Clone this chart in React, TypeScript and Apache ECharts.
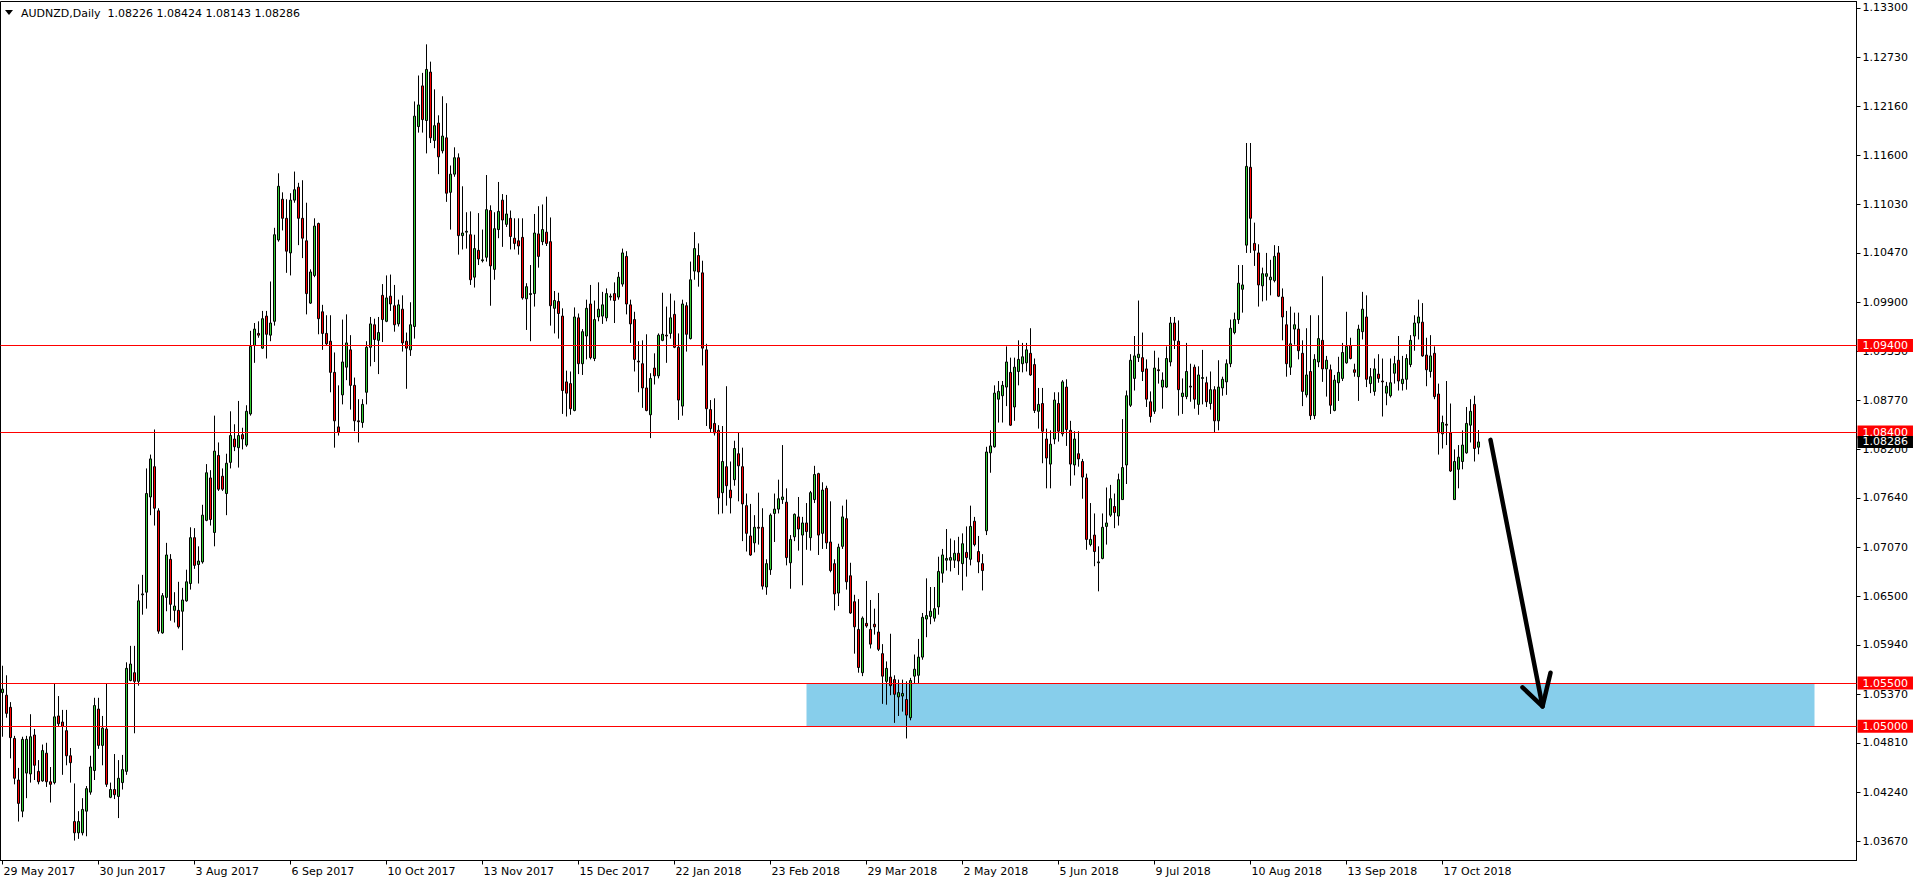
import React, { useEffect, useRef } from 'react';
import * as echarts from 'echarts';

// ---- DATA (rows are [open, close, low, high]) ----
const candlesA: number[][] = [
  [1.0539, 1.0543, 1.0488, 1.0570], [1.0536, 1.0515, 1.0510, 1.0559], [1.0522, 1.0487, 1.0463, 1.0528], [1.0486, 1.0440, 1.0433, 1.0489],
  [1.0438, 1.0411, 1.0390, 1.0452], [1.0402, 1.0485, 1.0395, 1.0488], [1.0446, 1.0485, 1.0417, 1.0489], [1.0445, 1.0488, 1.0435, 1.0514],
  [1.0490, 1.0455, 1.0438, 1.0497], [1.0448, 1.0436, 1.0433, 1.0461], [1.0437, 1.0472, 1.0436, 1.0479], [1.0469, 1.0436, 1.0430, 1.0481],
  [1.0436, 1.0433, 1.0412, 1.0453], [1.0435, 1.0511, 1.0433, 1.0550], [1.0512, 1.0503, 1.0500, 1.0535], [1.0505, 1.0500, 1.0444, 1.0519],
  [1.0495, 1.0466, 1.0455, 1.0519], [1.0466, 1.0458, 1.0435, 1.0475], [1.0390, 1.0377, 1.0368, 1.0434], [1.0377, 1.0390, 1.0370, 1.0402],
  [1.0377, 1.0404, 1.0374, 1.0417], [1.0402, 1.0428, 1.0373, 1.0431], [1.0424, 1.0453, 1.0421, 1.0466], [1.0449, 1.0524, 1.0438, 1.0533],
  [1.0520, 1.0478, 1.0474, 1.0533], [1.0478, 1.0498, 1.0455, 1.0512], [1.0497, 1.0433, 1.0430, 1.0550], [1.0418, 1.0427, 1.0417, 1.0435],
  [1.0427, 1.0421, 1.0416, 1.0468], [1.0419, 1.0440, 1.0394, 1.0461], [1.0435, 1.0450, 1.0427, 1.0467], [1.0448, 1.0567, 1.0444, 1.0574],
  [1.0553, 1.0572, 1.0552, 1.0593], [1.0562, 1.0552, 1.0492, 1.0593], [1.0552, 1.0645, 1.0547, 1.0664], [1.0652, 1.0653, 1.0629, 1.0675],
  [1.0655, 1.0769, 1.0636, 1.0798], [1.0765, 1.0809, 1.0744, 1.0814], [1.0800, 1.0752, 1.0732, 1.0843], [1.0749, 1.0610, 1.0607, 1.0752],
  [1.0608, 1.0651, 1.0607, 1.0654], [1.0649, 1.0698, 1.0633, 1.0712], [1.0693, 1.0641, 1.0622, 1.0699], [1.0634, 1.0639, 1.0620, 1.0655],
  [1.0634, 1.0615, 1.0613, 1.0667], [1.0633, 1.0646, 1.0588, 1.0660], [1.0645, 1.0667, 1.0644, 1.0681], [1.0665, 1.0718, 1.0658, 1.0730],
  [1.0718, 1.0686, 1.0682, 1.0729], [1.0687, 1.0691, 1.0665, 1.0708], [1.0690, 1.0744, 1.0688, 1.0756], [1.0738, 1.0793, 1.0737, 1.0803],
  [1.0787, 1.0739, 1.0732, 1.0796], [1.0724, 1.0818, 1.0708, 1.0859], [1.0813, 1.0774, 1.0772, 1.0828], [1.0789, 1.0774, 1.0772, 1.0798],
  [1.0769, 1.0804, 1.0744, 1.0815], [1.0805, 1.0836, 1.0798, 1.0864], [1.0832, 1.0823, 1.0818, 1.0849], [1.0822, 1.0836, 1.0799, 1.0876],
  [1.0837, 1.0832, 1.0820, 1.0845], [1.0825, 1.0864, 1.0823, 1.0871], [1.0861, 1.0939, 1.0859, 1.0957], [1.0940, 1.0959, 1.0920, 1.0966],
  [1.0954, 1.0952, 1.0949, 1.0968], [1.0937, 1.0971, 1.0936, 1.0980], [1.0974, 1.0953, 1.0925, 1.0980], [1.0952, 1.0966, 1.0945, 1.1014],
  [1.0968, 1.1068, 1.0963, 1.1076], [1.1062, 1.1124, 1.1060, 1.1139], [1.1109, 1.1087, 1.1073, 1.1117], [1.1087, 1.1049, 1.1024, 1.1109],
  [1.1047, 1.1108, 1.1021, 1.1116], [1.1108, 1.1120, 1.1105, 1.1141], [1.1123, 1.1087, 1.1056, 1.1128], [1.1087, 1.1064, 1.1041, 1.1131],
  [1.1061, 1.1000, 1.0976, 1.1105], [1.0989, 1.1025, 1.0988, 1.1028], [1.1021, 1.1078, 1.1019, 1.1087], [1.1081, 1.0971, 1.0953, 1.1082],
  [1.0979, 1.0954, 1.0935, 1.0987], [1.0954, 1.0942, 1.0940, 1.0975], [1.0945, 1.0909, 1.0886, 1.0975], [1.0909, 1.0853, 1.0822, 1.0932],
  [1.0846, 1.0840, 1.0836, 1.0894], [1.0883, 1.0921, 1.0872, 1.0970], [1.0915, 1.0943, 1.0900, 1.0976], [1.0935, 1.0894, 1.0866, 1.0952],
  [1.0894, 1.0853, 1.0841, 1.0903], [1.0853, 1.0852, 1.0828, 1.0878], [1.0851, 1.0872, 1.0845, 1.0878], [1.0886, 1.0938, 1.0872, 1.0945],
  [1.0938, 1.0965, 1.0916, 1.0973],
];
const candlesB: number[][] = [
  [1.0964, 1.0947, 1.0921, 1.0971], [1.0946, 1.0955, 1.0907, 1.0973], [1.0998, 1.0970, 1.0944, 1.1011], [1.0968, 1.0995, 1.0967, 1.1021],
  [1.0997, 1.0988, 1.0980, 1.1022], [1.0986, 1.0964, 1.0956, 1.1010], [1.0965, 1.0987, 1.0962, 1.0993], [1.0982, 1.0943, 1.0933, 1.0998],
  [1.0945, 1.0937, 1.0890, 1.0955], [1.0935, 1.0964, 1.0928, 1.0990], [1.0962, 1.1205, 1.0948, 1.1222], [1.1193, 1.1218, 1.1186, 1.1252],
  [1.1240, 1.1201, 1.1186, 1.1255], [1.1200, 1.1259, 1.1162, 1.1288], [1.1256, 1.1180, 1.1174, 1.1268], [1.1177, 1.1194, 1.1168, 1.1236],
  [1.1197, 1.1158, 1.1138, 1.1206], [1.1165, 1.1182, 1.1162, 1.1228], [1.1180, 1.1116, 1.1106, 1.1220], [1.1117, 1.1138, 1.1074, 1.1148],
  [1.1138, 1.1157, 1.1135, 1.1169], [1.1157, 1.1067, 1.1045, 1.1162], [1.1067, 1.1070, 1.1051, 1.1124], [1.1071, 1.1072, 1.1052, 1.1094],
  [1.1068, 1.1016, 1.1010, 1.1095], [1.1019, 1.1052, 1.1007, 1.1068], [1.1050, 1.1040, 1.1033, 1.1093], [1.1038, 1.1039, 1.1036, 1.1074],
  [1.1042, 1.1097, 1.1037, 1.1137], [1.1096, 1.1032, 1.0986, 1.1102], [1.1028, 1.1075, 1.1016, 1.1094], [1.1074, 1.1095, 1.1064, 1.1129],
  [1.1108, 1.1085, 1.1054, 1.1115], [1.1080, 1.1092, 1.1077, 1.1114], [1.1087, 1.1066, 1.1051, 1.1096], [1.1064, 1.1058, 1.1051, 1.1087],
  [1.1061, 1.1055, 1.1045, 1.1087], [1.1065, 1.0995, 1.0993, 1.1087], [1.0994, 1.1008, 1.0958, 1.1012], [1.0999, 1.1000, 1.0945, 1.1033],
  [1.1000, 1.1070, 1.0985, 1.1092], [1.1069, 1.1043, 1.1030, 1.1101], [1.1060, 1.1074, 1.1056, 1.1103], [1.1071, 1.1058, 1.1055, 1.1112],
  [1.1060, 1.0986, 1.0963, 1.1088], [1.0983, 1.0992, 1.0954, 1.1003], [1.0991, 1.0977, 1.0948, 1.1001], [1.0974, 1.0888, 1.0861, 1.0983],
  [1.0898, 1.0885, 1.0858, 1.0911], [1.0896, 1.0867, 1.0860, 1.0910], [1.0865, 1.0973, 1.0864, 1.0984], [1.0972, 1.0919, 1.0907, 1.0977],
  [1.0919, 1.0956, 1.0906, 1.0959], [1.0951, 1.0983, 1.0924, 1.0993], [1.0988, 1.0926, 1.0924, 1.1010], [1.0925, 1.0970, 1.0922, 1.0992],
  [1.0973, 1.0982, 1.0968, 1.1013], [1.0974, 1.0987, 1.0965, 1.1002], [1.0972, 1.1000, 1.0968, 1.1006], [1.0996, 1.0997, 1.0992, 1.1000],
  [1.1000, 1.0992, 1.0966, 1.1013], [1.0996, 1.1019, 1.0993, 1.1025], [1.1011, 1.1047, 1.1008, 1.1052], [1.1043, 1.0988, 1.0976, 1.1049],
  [1.0987, 1.0965, 1.0943, 1.0993], [1.0970, 1.0924, 1.0910, 1.0979], [1.0922, 1.0921, 1.0886, 1.0945], [1.0919, 1.0891, 1.0868, 1.0946],
  [1.0891, 1.0865, 1.0864, 1.0953], [1.0860, 1.0902, 1.0833, 1.0908], [1.0914, 1.0905, 1.0895, 1.0931], [1.0905, 1.0952, 1.0902, 1.0954],
  [1.0946, 1.0953, 1.0945, 1.1001], [1.0952, 1.0951, 1.0920, 1.0985], [1.0954, 1.0972, 1.0948, 1.1000], [1.0976, 1.0938, 1.0937, 1.0992],
  [1.0938, 1.0877, 1.0854, 1.0954], [1.0870, 1.0988, 1.0859, 1.0993], [1.0986, 1.0953, 1.0933, 1.0990], [1.0948, 1.1016, 1.0947, 1.1037],
  [1.1026, 1.1052, 1.1016, 1.1071], [1.1044, 1.1025, 1.1008, 1.1058], [1.1024, 1.0937, 1.0917, 1.1038], [1.0935, 1.0867, 1.0847, 1.0942],
  [1.0866, 1.0844, 1.0840, 1.0877], [1.0850, 1.0839, 1.0836, 1.0879], [1.0842, 1.0764, 1.0745, 1.0848], [1.0770, 1.0806, 1.0746, 1.0847],
  [1.0800, 1.0778, 1.0755, 1.0893], [1.0773, 1.0764, 1.0746, 1.0806], [1.0785, 1.0821, 1.0778, 1.0830], [1.0815, 1.0801, 1.0760, 1.0839],
  [1.0800, 1.0757, 1.0714, 1.0822],
];
const candlesC: number[][] = [
  [1.0755, 1.0723, 1.0702, 1.0769], [1.0720, 1.0698, 1.0697, 1.0757], [1.0712, 1.0730, 1.0701, 1.0744], [1.0730, 1.0729, 1.0710, 1.0770],
  [1.0730, 1.0662, 1.0658, 1.0752], [1.0661, 1.0688, 1.0652, 1.0693], [1.0681, 1.0744, 1.0675, 1.0746], [1.0746, 1.0751, 1.0713, 1.0769],
  [1.0751, 1.0763, 1.0746, 1.0785], [1.0762, 1.0765, 1.0757, 1.0825], [1.0759, 1.0695, 1.0686, 1.0775], [1.0689, 1.0716, 1.0659, 1.0721],
  [1.0719, 1.0745, 1.0714, 1.0746], [1.0742, 1.0728, 1.0703, 1.0765], [1.0721, 1.0735, 1.0663, 1.0742], [1.0735, 1.0725, 1.0704, 1.0758],
  [1.0718, 1.0770, 1.0703, 1.0772], [1.0762, 1.0791, 1.0758, 1.0801], [1.0792, 1.0721, 1.0698, 1.0793], [1.0723, 1.0773, 1.0705, 1.0782],
  [1.0775, 1.0712, 1.0705, 1.0778], [1.0713, 1.0680, 1.0678, 1.0760], [1.0688, 1.0653, 1.0634, 1.0693], [1.0654, 1.0707, 1.0639, 1.0711],
  [1.0708, 1.0742, 1.0705, 1.0755], [1.0740, 1.0667, 1.0658, 1.0762], [1.0674, 1.0631, 1.0630, 1.0689], [1.0644, 1.0615, 1.0584, 1.0652],
  [1.0612, 1.0568, 1.0562, 1.0647], [1.0562, 1.0625, 1.0558, 1.0627], [1.0619, 1.0616, 1.0614, 1.0668], [1.0612, 1.0595, 1.0590, 1.0646],
  [1.0618, 1.0615, 1.0606, 1.0636], [1.0609, 1.0589, 1.0587, 1.0654], [1.0584, 1.0558, 1.0526, 1.0595], [1.0552, 1.0567, 1.0525, 1.0575],
  [1.0557, 1.0547, 1.0536, 1.0607], [1.0554, 1.0537, 1.0504, 1.0559], [1.0534, 1.0539, 1.0512, 1.0554], [1.0535, 1.0538, 1.0517, 1.0554],
  [1.0531, 1.0513, 1.0486, 1.0552], [1.0510, 1.0553, 1.0507, 1.0556], [1.0558, 1.0566, 1.0550, 1.0583], [1.0559, 1.0580, 1.0550, 1.0601],
  [1.0580, 1.0626, 1.0577, 1.0631], [1.0624, 1.0628, 1.0603, 1.0671], [1.0627, 1.0633, 1.0618, 1.0661], [1.0625, 1.0636, 1.0621, 1.0661],
  [1.0638, 1.0679, 1.0629, 1.0696], [1.0677, 1.0698, 1.0666, 1.0705], [1.0692, 1.0694, 1.0680, 1.0728], [1.0692, 1.0695, 1.0679, 1.0717],
  [1.0692, 1.0700, 1.0683, 1.0715], [1.0700, 1.0691, 1.0675, 1.0719], [1.0688, 1.0711, 1.0657, 1.0723], [1.0701, 1.0695, 1.0673, 1.0731],
  [1.0693, 1.0731, 1.0686, 1.0755], [1.0737, 1.0710, 1.0708, 1.0742], [1.0702, 1.0690, 1.0677, 1.0720], [1.0688, 1.0680, 1.0657, 1.0699],
  [1.0726, 1.0817, 1.0721, 1.0823], [1.0816, 1.0824, 1.0793, 1.0842], [1.0823, 1.0885, 1.0822, 1.0894], [1.0878, 1.0887, 1.0851, 1.0899],
  [1.0882, 1.0894, 1.0851, 1.0899], [1.0892, 1.0921, 1.0870, 1.0939], [1.0909, 1.0848, 1.0847, 1.0926], [1.0869, 1.0915, 1.0853, 1.0926],
  [1.0910, 1.0924, 1.0894, 1.0946], [1.0919, 1.0927, 1.0909, 1.0943], [1.0920, 1.0935, 1.0910, 1.0943], [1.0931, 1.0906, 1.0905, 1.0960],
  [1.0918, 1.0865, 1.0862, 1.0925], [1.0864, 1.0872, 1.0844, 1.0891], [1.0873, 1.0841, 1.0804, 1.0891], [1.0832, 1.0810, 1.0775, 1.0844],
  [1.0803, 1.0826, 1.0775, 1.0842], [1.0832, 1.0877, 1.0826, 1.0886], [1.0873, 1.0841, 1.0829, 1.0886], [1.0838, 1.0898, 1.0835, 1.0900],
  [1.0892, 1.0843, 1.0824, 1.0901], [1.0842, 1.0803, 1.0778, 1.0853], [1.0802, 1.0832, 1.0790, 1.0841], [1.0815, 1.0809, 1.0800, 1.0841],
  [1.0806, 1.0788, 1.0763, 1.0809], [1.0787, 1.0716, 1.0704, 1.0792], [1.0710, 1.0716, 1.0708, 1.0758], [1.0721, 1.0702, 1.0685, 1.0746],
  [1.0689, 1.0690, 1.0656, 1.0708], [1.0694, 1.0730, 1.0693, 1.0746], [1.0731, 1.0735, 1.0710, 1.0776], [1.0744, 1.0763, 1.0742, 1.0779],
  [1.0754, 1.0747, 1.0729, 1.0769],
];
const candlesD: number[][] = [
  [1.0743, 1.0785, 1.0732, 1.0792], [1.0762, 1.0799, 1.0762, 1.0855], [1.0802, 1.0882, 1.0780, 1.0888], [1.0871, 1.0923, 1.0869, 1.0930],
  [1.0902, 1.0928, 1.0888, 1.0951], [1.0926, 1.0930, 1.0921, 1.0992], [1.0926, 1.0910, 1.0899, 1.0955], [1.0913, 1.0878, 1.0869, 1.0924],
  [1.0875, 1.0858, 1.0851, 1.0887], [1.0864, 1.0914, 1.0861, 1.0934], [1.0912, 1.0911, 1.0896, 1.0926], [1.0892, 1.0900, 1.0867, 1.0909],
  [1.0892, 1.0925, 1.0891, 1.0939], [1.0921, 1.0966, 1.0916, 1.0973], [1.0966, 1.0946, 1.0936, 1.0973], [1.0945, 1.0889, 1.0859, 1.0969],
  [1.0881, 1.0885, 1.0861, 1.0902], [1.0881, 1.0910, 1.0878, 1.0943], [1.0893, 1.0892, 1.0875, 1.0919], [1.0915, 1.0878, 1.0867, 1.0918],
  [1.0872, 1.0906, 1.0860, 1.0916], [1.0902, 1.0903, 1.0872, 1.0935], [1.0897, 1.0875, 1.0869, 1.0904], [1.0873, 1.0889, 1.0866, 1.0910],
  [1.0889, 1.0853, 1.0839, 1.0893], [1.0853, 1.0892, 1.0842, 1.0923], [1.0891, 1.0901, 1.0882, 1.0904], [1.0898, 1.0919, 1.0883, 1.0924],
  [1.0919, 1.0960, 1.0915, 1.0970], [1.0955, 1.0970, 1.0953, 1.0978], [1.0970, 1.1012, 1.0965, 1.1033], [1.1005, 1.1010, 1.0978, 1.1033],
  [1.1056, 1.1147, 1.1047, 1.1174], [1.1146, 1.1087, 1.1047, 1.1174], [1.1058, 1.1050, 1.1032, 1.1082], [1.1047, 1.1010, 1.0985, 1.1057],
  [1.1009, 1.1023, 1.0991, 1.1030], [1.1020, 1.1023, 1.0992, 1.1047], [1.1016, 1.1019, 1.0998, 1.1039], [1.1015, 1.1043, 1.1013, 1.1056],
  [1.1047, 1.0997, 1.0996, 1.1055], [1.0996, 1.0973, 1.0946, 1.1006], [1.0964, 1.0919, 1.0904, 1.0980], [1.0915, 1.0942, 1.0906, 1.0985],
  [1.0959, 1.0964, 1.0941, 1.0978], [1.0959, 1.0934, 1.0924, 1.0978], [1.0931, 1.0887, 1.0870, 1.0946], [1.0883, 1.0906, 1.0880, 1.0960],
  [1.0910, 1.0859, 1.0854, 1.0975], [1.0859, 1.0924, 1.0855, 1.0930], [1.0921, 1.0948, 1.0915, 1.0975], [1.0946, 1.0913, 1.0898, 1.1020],
  [1.0913, 1.0923, 1.0881, 1.0928], [1.0912, 1.0871, 1.0861, 1.0918], [1.0865, 1.0900, 1.0864, 1.0906], [1.0897, 1.0909, 1.0876, 1.0927],
  [1.0902, 1.0932, 1.0899, 1.0943], [1.0920, 1.0939, 1.0919, 1.0979], [1.0940, 1.0925, 1.0924, 1.0949], [1.0912, 1.0909, 1.0904, 1.0919],
  [1.0904, 1.0959, 1.0876, 1.0964], [1.0956, 1.0982, 1.0947, 1.1002], [1.0973, 1.0901, 1.0892, 1.0998], [1.0896, 1.0904, 1.0885, 1.0914],
  [1.0887, 1.0913, 1.0882, 1.0925], [1.0907, 1.0902, 1.0897, 1.0930], [1.0899, 1.0898, 1.0858, 1.0925], [1.0885, 1.0893, 1.0871, 1.0898],
  [1.0882, 1.0897, 1.0880, 1.0925], [1.0908, 1.0919, 1.0896, 1.0928], [1.0923, 1.0899, 1.0888, 1.0951], [1.0896, 1.0901, 1.0888, 1.0928],
  [1.0901, 1.0925, 1.0889, 1.0930], [1.0918, 1.0946, 1.0915, 1.0952], [1.0951, 1.0966, 1.0934, 1.0975], [1.0966, 1.0973, 1.0947, 1.0993],
  [1.0967, 1.0928, 1.0927, 1.0989], [1.0929, 1.0912, 1.0893, 1.0949], [1.0910, 1.0928, 1.0903, 1.0952], [1.0931, 1.0881, 1.0878, 1.0939],
  [1.0884, 1.0839, 1.0814, 1.0896], [1.0838, 1.0851, 1.0821, 1.0859], [1.0849, 1.0848, 1.0825, 1.0899], [1.0839, 1.0795, 1.0794, 1.0873],
  [1.0762, 1.0806, 1.0762, 1.0820], [1.0797, 1.0811, 1.0775, 1.0825], [1.0806, 1.0825, 1.0797, 1.0842], [1.0816, 1.0850, 1.0815, 1.0869],
  [1.0848, 1.0864, 1.0828, 1.0878], [1.0872, 1.0821, 1.0806, 1.0882], [1.08226, 1.08286, 1.08143, 1.08424],
];

const SYMBOL = 'AUDNZD,Daily';
const START_DATE = [2017, 4, 29]; // 29 May 2017
const HOLIDAYS = ['2017-12-25', '2018-01-01'];
const MONTHS = ['Jan', 'Feb', 'Mar', 'Apr', 'May', 'Jun', 'Jul', 'Aug', 'Sep', 'Oct', 'Nov', 'Dec'];
const TOTAL_SLOTS = 464; // bars + empty right-hand chart shift
const LABEL_EVERY = 24;

const Y_MIN = 1.0345;
const Y_MAX = 1.13375;
const Y_TICKS = [1.133, 1.1273, 1.1216, 1.116, 1.1103, 1.1047, 1.099, 1.0933, 1.0877, 1.082, 1.0764, 1.0707, 1.065, 1.0594, 1.0537, 1.0481, 1.0424, 1.0367];
const LEVELS = [1.094, 1.084, 1.055, 1.05];
const ZONE = { fromBar: 201, toBar: 453, low: 1.05, high: 1.055 };
const ARROW_SHAFT = [[372, 1.0831], [385, 1.0523]];
const ARROW_HEAD = [[380, 1.0545], [385, 1.0523], [387, 1.0562]];

const FONT = 'DejaVu Sans';
const BULL = '#32CD32';
const BEAR = '#FF0000';

function buildDates(n: number): string[] {
  const out: string[] = [];
  let t = Date.UTC(START_DATE[0], START_DATE[1], START_DATE[2]);
  while (out.length < n) {
    const d = new Date(t);
    const wd = d.getUTCDay();
    const iso = d.toISOString().slice(0, 10);
    if (wd !== 0 && wd !== 6 && HOLIDAYS.indexOf(iso) < 0) {
      out.push(`${d.getUTCDate()} ${MONTHS[d.getUTCMonth()]} ${d.getUTCFullYear()}`);
    }
    t += 86400000;
  }
  return out;
}

export default function App() {
  const ref = useRef<HTMLDivElement>(null);
  useEffect(() => {
    if (!ref.current) return;
    const chart = echarts.init(ref.current, null, { renderer: 'svg' });
    const candles = [...candlesA, ...candlesB, ...candlesC, ...candlesD].map(([o, c, l, h]) => [
      o, c, Math.min(l, o, c), Math.max(h, o, c),
    ]);
    const nBars = candles.length;
    const categories = buildDates(TOTAL_SLOTS);
    const last = candles[nBars - 1];
    const titleText = `${SYMBOL}  ${last[0].toFixed(5)} ${last[3].toFixed(5)} ${last[2].toFixed(5)} ${last[1].toFixed(5)}`;
    const showLabel = (idx: number) => idx % LABEL_EVERY === 0 && idx < nBars;

    const option: any = {
      animation: false,
      backgroundColor: '#ffffff',
      textStyle: { fontFamily: FONT },
      grid: {
        left: 0.5, right: 59.5, top: 1.5, bottom: 23.5,
        show: true, borderColor: '#000', borderWidth: 1, backgroundColor: 'transparent',
        containLabel: false, outerBoundsMode: 'none',
      },
      xAxis: {
        type: 'category',
        data: categories,
        boundaryGap: true,
        axisLine: { show: true, lineStyle: { color: '#000', width: 1 } },
        axisTick: { show: true, alignWithLabel: true, interval: (i: number) => showLabel(i), length: 4, lineStyle: { color: '#000' } },
        axisLabel: {
          interval: (i: number) => showLabel(i),
          color: '#000', fontSize: 11, fontFamily: FONT, align: 'left', margin: 5, padding: [0, 0, 0, 1],
        },
        splitLine: { show: false },
      },
      yAxis: [
        {
          type: 'value', position: 'right', min: Y_MIN, max: Y_MAX,
          axisLine: { show: true, lineStyle: { color: '#000', width: 1 } },
          axisTick: { show: true, customValues: Y_TICKS, length: 4, inside: false, lineStyle: { color: '#000' } },
          axisLabel: { customValues: Y_TICKS, formatter: (v: number) => v.toFixed(5), color: '#000', fontSize: 11, fontFamily: FONT, margin: 6 },
          splitLine: { show: false },
        },
        {
          type: 'value', position: 'right', min: Y_MIN, max: Y_MAX,
          axisLine: { show: false }, axisTick: { show: false }, splitLine: { show: false },
          axisLabel: {
            customValues: LEVELS, formatter: (v: number) => v.toFixed(5), color: '#fff', fontSize: 11, fontFamily: FONT,
            backgroundColor: '#FF0000', padding: [1, 5, 0, 5], lineHeight: 12, margin: 1,
          },
        },
        {
          type: 'value', position: 'right', min: Y_MIN, max: Y_MAX,
          axisLine: { show: false }, axisTick: { show: false }, splitLine: { show: false },
          axisLabel: {
            customValues: [last[1]], formatter: (v: number) => v.toFixed(5), color: '#fff', fontSize: 11, fontFamily: FONT,
            backgroundColor: '#000', padding: [1, 5, 0, 5], lineHeight: 11, margin: 1,
          },
        },
      ],
      series: [
        {
          type: 'candlestick',
          name: 'AUDNZD',
          data: candles,
          barWidth: 2,
          z: 2,
          itemStyle: {
            color: BULL, color0: BEAR, borderColor: '#000', borderColor0: '#000', borderColorDoji: '#000', borderWidth: 1,
          },
          markLine: {
            silent: true, symbol: ['none', 'none'], animation: false, precision: 5,
            label: { show: false },
            lineStyle: { color: '#FF0000', width: 1, type: 'solid' },
            emphasis: { disabled: true },
            data: LEVELS.map((v) => ({ yAxis: v })),
          },
          markArea: {
            silent: true,
            itemStyle: { color: '#87CEEB', opacity: 1 },
            data: [[{ xAxis: ZONE.fromBar, yAxis: ZONE.high }, { xAxis: ZONE.toBar, yAxis: ZONE.low }]],
          },
        },
        {
          type: 'line', name: 'arrowShaft', data: ARROW_SHAFT, symbol: 'none', silent: true, z: 10, clip: false,
          lineStyle: { color: '#000', width: 4.5, cap: 'round', join: 'round' },
        },
        {
          type: 'line', name: 'arrowHead', data: ARROW_HEAD, symbol: 'none', silent: true, z: 10, clip: false,
          lineStyle: { color: '#000', width: 4.5, cap: 'round', join: 'round' },
        },
      ],
      graphic: [
        { type: 'polygon', shape: { points: [[5, 10], [13, 10], [9, 15]] }, style: { fill: '#000' }, z: 20 },
        {
          type: 'text', x: 21, y: 13, z: 20,
          style: { text: titleText, fill: '#000', fontSize: 11, fontFamily: FONT, verticalAlign: 'middle', align: 'left' },
        },
      ],
    };
    chart.setOption(option);
    return () => chart.dispose();
  }, []);
  return (
    <div
      ref={ref}
      style={{ position: 'fixed', left: 0, top: 0, width: 1916, height: 884, background: '#fff' }}
    />
  );
}
